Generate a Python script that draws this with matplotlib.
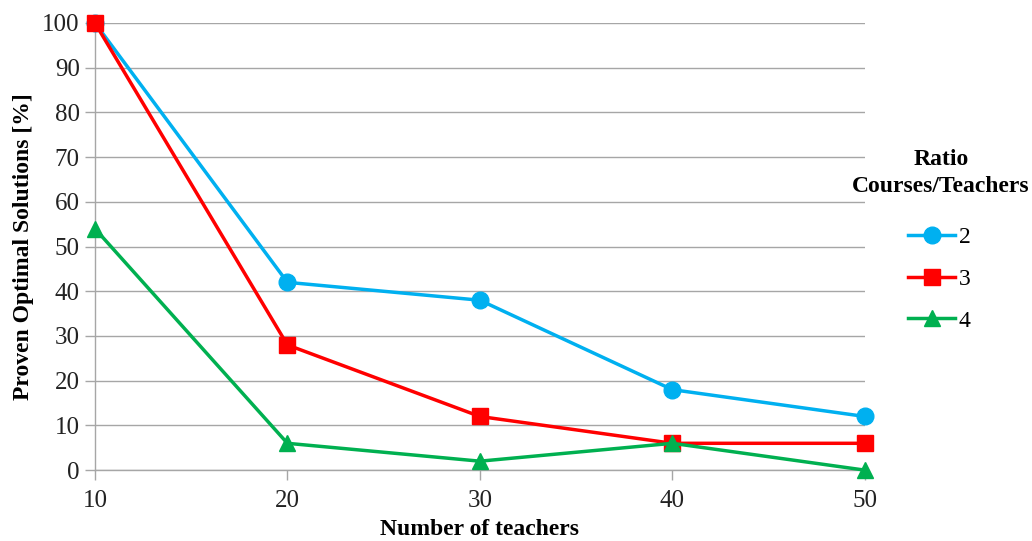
import matplotlib.pyplot as plt
from matplotlib.lines import Line2D

plt.rcParams['font.family'] = ['Liberation Serif', 'DejaVu Serif']

teachers = [10, 20, 30, 40, 50]
ratio2 = [100, 42, 38, 18, 12]
ratio3 = [100, 28, 12, 6, 6]
ratio4 = [54, 6, 2, 6, 0]

fig = plt.figure(figsize=(10.32, 5.41), dpi=100)
ax = fig.add_axes([0.092, 0.131, 0.746, 0.8265])

grey = '#a6a6a6'
ax.plot(teachers, ratio2, color='#00b0f0', lw=2.5, marker='o', ms=12, clip_on=False, zorder=3)
ax.plot(teachers, ratio3, color='#ff0000', lw=2.5, marker='s', ms=12, clip_on=False, zorder=4)
ax.plot(teachers, ratio4, color='#00b050', lw=2.5, marker='^', ms=12, clip_on=False, zorder=5)

ax.set_xlim(10, 50)
ax.set_ylim(0, 100)
ax.set_xticks(teachers)
ax.set_yticks(range(0, 101, 10))
ax.yaxis.grid(True, color=grey, lw=1)
ax.set_axisbelow(True)
for s in ['top', 'right']:
    ax.spines[s].set_visible(False)
for s in ['left', 'bottom']:
    ax.spines[s].set_color(grey)
    ax.spines[s].set_linewidth(1)
ax.tick_params(colors=grey, length=7, width=1, labelsize=18, labelcolor='#222222')
ax.tick_params(axis='x', pad=7)
ax.tick_params(axis='y', pad=4)

ax.set_xlabel('Number of teachers', fontsize=17, fontweight='bold', labelpad=5)
ax.set_ylabel('Proven Optimal Solutions [%]', fontsize=17, fontweight='bold', labelpad=6)

# legend drawn by hand at the right side
handles = [
    Line2D([], [], color='#00b0f0', lw=2.5, marker='o', ms=12),
    Line2D([], [], color='#ff0000', lw=2.5, marker='s', ms=12),
    Line2D([], [], color='#00b050', lw=2.5, marker='^', ms=12),
]
fig.text(0.912, 0.68, 'Ratio\nCourses/Teachers', ha='center', va='center',
         fontsize=17, fontweight='bold', linespacing=1.35)
leg = fig.legend(handles, ['2', '3', '4'], loc='center left', bbox_to_anchor=(0.88, 0.484),
                 frameon=False, fontsize=17, handlelength=2.0, handletextpad=0.15,
                 labelspacing=0.85, borderpad=0, borderaxespad=0)

fig.savefig('out.png', dpi=100)
